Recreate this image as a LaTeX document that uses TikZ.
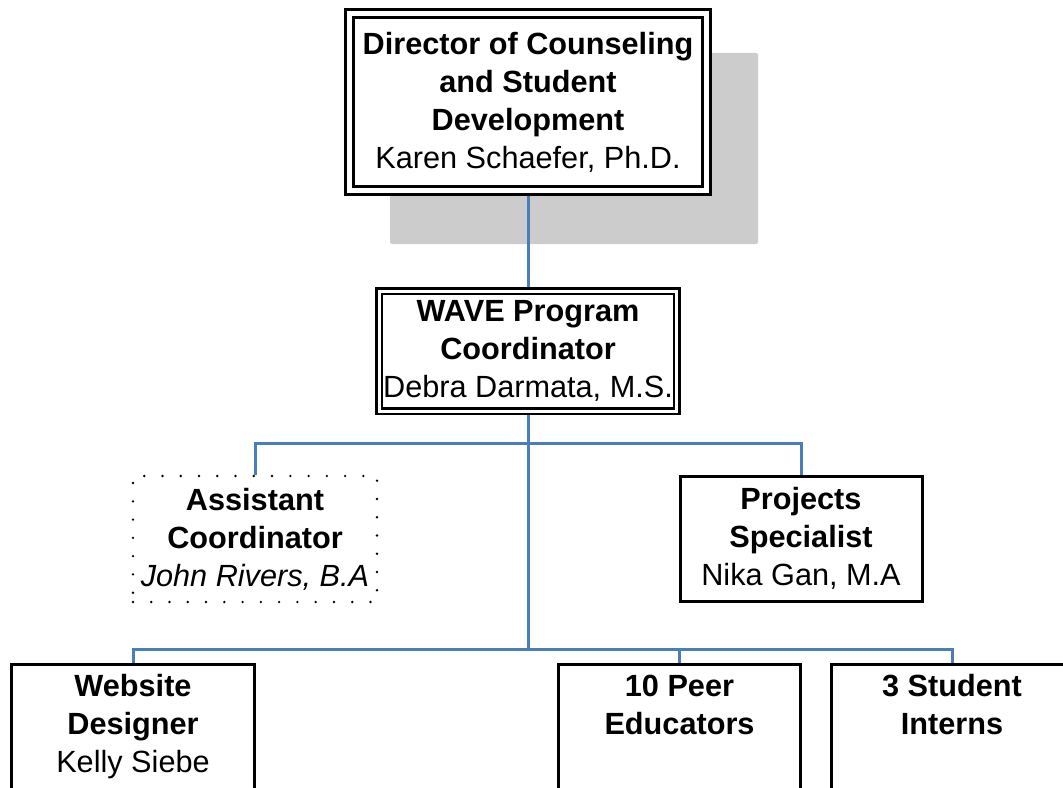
\documentclass[tikz,border=0pt]{standalone}
\usepackage{fontspec}
\setmainfont{Liberation Sans}
\definecolor{linkblue}{HTML}{4A7EBB}
\definecolor{shadowgray}{HTML}{CCCCCC}
\begin{document}
\begin{tikzpicture}[x=0.75pt, y=-0.75pt,
    every node/.style={font=\fontsize{23}{28.5}\selectfont, align=center, inner sep=0pt},
    link/.style={linkblue, line width=2.25pt},
    unit/.style={draw, fill=white, line width=2.25pt, minimum height=93.75pt},
    headbox/.style={draw, fill=white, double, line width=2.25pt, double distance=3.75pt, outer sep=4.1pt},
    dotbox/.style={draw, line width=2pt, line cap=round, dash pattern=on 0pt off 13.7pt, minimum width=183pt, minimum height=94.5pt}]
    \useasboundingbox (0,0) rectangle (1063,788);
    \clip (0,0) rectangle (1063,788);
    \fill [shadowgray, rounded corners=1.5pt] (390,53) rectangle (758,244);
    \node [headbox, minimum width=267.4pt, minimum height=132.75pt] (director) at (528,102)
      {\bfseries Director of Counseling\\\bfseries and Student\\\bfseries Development\\Karen Schaefer, Ph.D.};
    \node [headbox, line width=1.95pt, double distance=2.25pt, outer sep=3.1pt, minimum width=223.1pt, minimum height=90pt] (wave) at (528,351)
      {\bfseries WAVE Program\\\bfseries Coordinator\\Debra Darmata, M.S.};
    \node [dotbox] (assistant) at (255,539)
      {\bfseries Assistant\\\bfseries Coordinator\\\itshape John Rivers, B.A};
    \node [unit, minimum width=181.5pt] (projects) at (801,538.5)
      {\bfseries Projects\\\bfseries Specialist\\Nika Gan, M.A};
    \node [unit, minimum width=182.25pt] (website) at (133,727)
      {\bfseries Website\\\bfseries Designer\\Kelly Siebe};
    \node [unit, minimum width=181.5pt] (peers) at (679.5,727)
      {\parbox[c][85.5pt][t]{170pt}{\centering\bfseries\strut 10 Peer\\Educators}};
    \node [unit, minimum width=180.75pt] (interns) at (952,727)
      {\parbox[c][85.5pt][t]{170pt}{\centering\bfseries\strut 3 Student\\Interns}};
    \coordinate (fork) at (528,443);
    \coordinate (hub) at (528,649);
    \draw [link] (director.south) -- (wave.north);
    \draw [link] (wave.south) -- (hub);
    \draw [link] (assistant.north) |- (fork) -| (projects.north);
    \draw [link] (website.north) |- (hub) -| (interns.north);
    \draw [link] (peers.north) -- (peers.north |- hub);
  \end{tikzpicture}
\end{document}
